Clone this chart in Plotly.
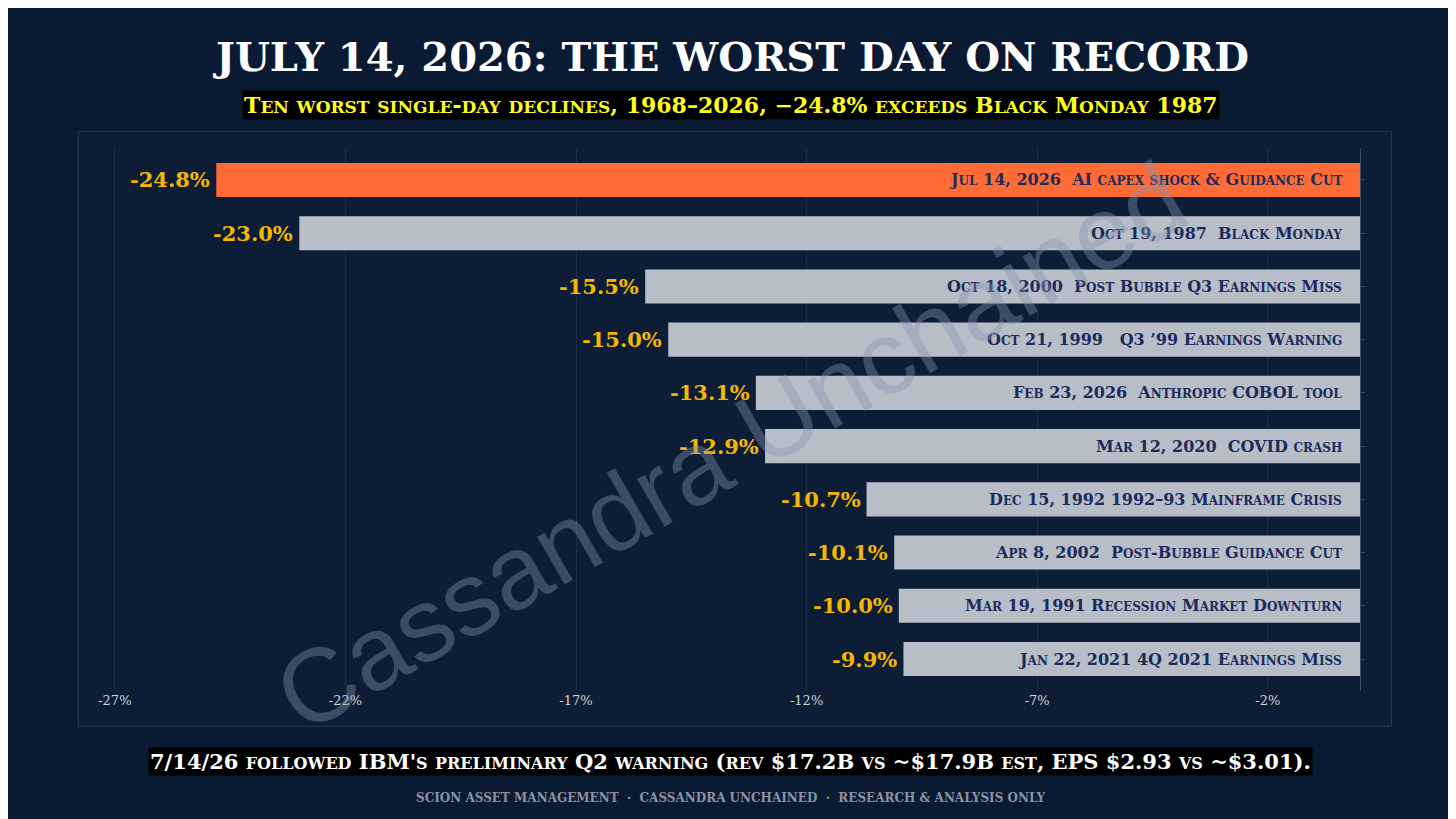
import plotly.graph_objects as go

BG = "#0b1a33"
SERIF = "DejaVu Serif"

values = [-24.8, -23.0, -15.5, -15.0, -13.1, -12.9, -10.7, -10.1, -10.0, -9.9]
events = [
    "Jul 14, 2026  AI capex shock & Guidance Cut",
    "Oct 19, 1987  Black Monday",
    "Oct 18, 2000  Post Bubble Q3 Earnings Miss",
    "Oct 21, 1999   Q3 \u201999 Earnings Warning",
    "Feb 23, 2026  Anthropic COBOL tool",
    "Mar 12, 2020  COVID crash",
    "Dec 15, 1992 1992\u201393 Mainframe Crisis",
    "Apr 8, 2002  Post-Bubble Guidance Cut",
    "Mar 19, 1991 Recession Market Downturn",
    "Jan 22, 2021 4Q 2021 Earnings Miss",
]
tick_vals = [-27, -22, -17, -12, -7, -2]
tick_text = ["-27%", "-22%", "-17%", "-12%", "-7%", "-2%"]


def small_caps(text, size):
    small = round(size * 0.78)
    out, run = "", ""
    for ch in text:
        if ch.islower():
            run += ch.upper()
        else:
            if run:
                out += f"<span style='font-size:{small}px'>{run}</span>"
                run = ""
            out += ch
    if run:
        out += f"<span style='font-size:{small}px'>{run}</span>"
    return out


cats = list(range(len(values)))
colors = ["#ff6b35"] + ["#b8bec8"] * (len(values) - 1)

fig = go.Figure()
fig.add_trace(go.Bar(
    x=values, y=cats, orientation="h", marker=dict(color=colors, line=dict(width=0)),
    width=0.64, hoverinfo="skip",
))

for c, v, ev in zip(cats, values, events):
    fig.add_annotation(x=v, y=c, text=f"<b>{v:.1f}%</b>", showarrow=False, xanchor="right",
                       xshift=-4, font=dict(family=SERIF, size=21, color="#f5b800"))
    fig.add_annotation(x=0, y=c, text="<b>" + small_caps(ev, 16) + "</b>", showarrow=False,
                       xanchor="right", xshift=-16, font=dict(family=SERIF, size=16, color="#1c2b5a"))

# panel
fig.add_shape(type="rect", xref="paper", yref="paper", x0=-0.018, x1=1.025, y0=-0.065, y1=1.03,
              line=dict(color="#2a3a58", width=1), fillcolor="rgba(255,255,255,0.015)", layer="below")

fig.add_annotation(xref="paper", yref="paper", x=0.5, y=0.45, text="Cassandra Unchained",
                   showarrow=False, textangle=-30,
                   font=dict(family="Liberation Sans", size=104, color="rgba(130,148,175,0.4)"))

fig.add_annotation(xref="paper", yref="paper", x=0.5, y=1.0, yshift=92, yanchor="middle",
                   text="<b>JULY 14, 2026: THE WORST DAY ON RECORD</b>", showarrow=False,
                   font=dict(family=SERIF, size=40, color="white"))
fig.add_annotation(xref="paper", yref="paper", x=0.5, y=1.0, yshift=43, yanchor="middle",
                   text="<b>" + small_caps("Ten worst single-day declines, 1968\u20132026, \u221224.8% exceeds Black Monday 1987", 22) + "</b>",
                   showarrow=False, bgcolor="black", font=dict(family=SERIF, size=22, color="#ffff1a"))
fig.add_annotation(xref="paper", yref="paper", x=0.5, y=0, yshift=-70, yanchor="middle",
                   text="<b>" + small_caps("7/14/26 followed IBM's preliminary Q2 warning (rev $17.2B vs ~$17.9B est, EPS $2.93 vs ~$3.01).", 21) + "</b>",
                   showarrow=False, bgcolor="black", font=dict(family=SERIF, size=21, color="white"))
fig.add_annotation(xref="paper", yref="paper", x=0.5, y=0, yshift=-107, yanchor="middle",
                   text="<b>SCION ASSET MANAGEMENT  \u00b7  CASSANDRA UNCHAINED  \u00b7  RESEARCH & ANALYSIS ONLY</b>",
                   showarrow=False, font=dict(family=SERIF, size=12, color="#8a93a3"))

fig.update_layout(
    width=1456, height=819, paper_bgcolor=BG, plot_bgcolor=BG, showlegend=False,
    margin=dict(l=93, r=104, t=140, b=136),
    xaxis=dict(range=[-27.3, 0], tickvals=tick_vals, ticktext=tick_text, showgrid=True,
               gridcolor="#1d2c47", zeroline=False, tickfont=dict(family=SERIF, size=13, color="#d0d4dc"),
               ticks="", fixedrange=True),
    yaxis=dict(range=[9.6, -0.6], showticklabels=False, showgrid=False, zeroline=False,
               side="right", showline=True, linecolor="#3a4a66", ticks="outside", ticklen=4,
               tickcolor="#3a4a66", tickvals=cats),
)

fig.write_html("out.html")
